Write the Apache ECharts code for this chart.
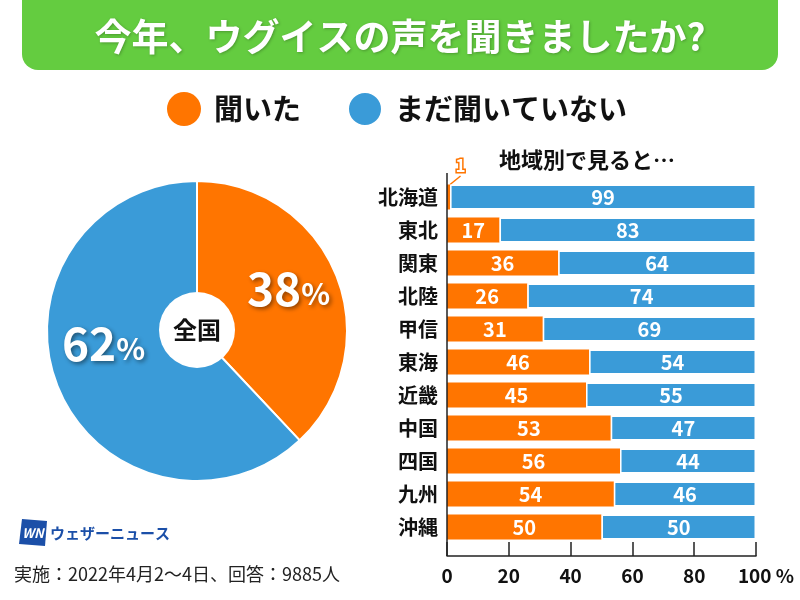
<!DOCTYPE html>
<html><head><meta charset="utf-8">
<script src="https://cdn.jsdelivr.net/npm/echarts@6/dist/echarts.min.js"></script>
<style>html,body{margin:0;padding:0;background:#fff}#c{width:800px;height:600px}</style>
</head><body><div id="c"></div>
<script>
const FONT = '"Noto Sans CJK JP", "Noto Sans", sans-serif';
const ORANGE = '#ff7500';
const BLUE = '#3a9bd8';
const GREEN = '#64cc40';

const seriesNames = ['聞いた', 'まだ聞いていない'];
const nationalValues = [38, 62];
const regions = ['北海道','東北','関東','北陸','甲信','東海','近畿','中国','四国','九州','沖縄'];
const heard = [1, 17, 36, 26, 31, 46, 45, 53, 56, 54, 50];
const notHeard = [99, 83, 64, 74, 69, 54, 55, 47, 44, 46, 50];
const xTicks = [0, 20, 40, 60, 80, 100];

const chart = echarts.init(document.getElementById('c'), null, {renderer: 'canvas'});

const shadow = {textShadowColor: 'rgba(0,0,0,0.45)', textShadowBlur: 4, textShadowOffsetX: 2, textShadowOffsetY: 2};

const option = {
  backgroundColor: '#fff',
  animation: false,
  textStyle: {fontFamily: FONT},
  legend: {
    left: 162, top: 86,
    itemWidth: 34, itemHeight: 34, itemGap: 46,
    icon: 'circle',
    data: seriesNames,
    textStyle: {fontSize: 29, fontWeight: 'bold', color: '#111', fontFamily: FONT, padding: [0, 0, 0, 8]}
  },
  grid: {left: 447, right: 44, top: 180.5, bottom: 56.5, containLabel: false},
  xAxis: {
    type: 'value', min: 0, max: 100, interval: 20, offset: 12.5,
    axisLine: {show: true, lineStyle: {color: '#222', width: 1.5}},
    axisTick: {show: true, inside: true, length: 14, lineStyle: {color: '#222', width: 1.5}},
    splitLine: {show: false},
    axisLabel: {
      margin: 10, color: '#111', fontSize: 19, fontWeight: 'bold', fontFamily: FONT,
      formatter: v => v === 100 ? '{s|}' + xTicks[5] + '{p| %}' : String(v),
      rich: {s: {width: 20}, p: {fontSize: 19, fontWeight: 'bold', color: '#111'}}
    }
  },
  yAxis: {
    type: 'category', inverse: true, data: regions,
    axisLine: {show: false}, axisTick: {show: false},
    axisLabel: {margin: 9, color: '#111', fontSize: 20, fontWeight: 'bold', fontFamily: FONT}
  },
  series: [
    {
      name: seriesNames[0], type: 'bar', stack: 'r', barWidth: 25,
      itemStyle: {color: ORANGE},
      label: {show: true, position: 'inside', color: '#fff', fontSize: 20, fontWeight: 'bold', fontFamily: FONT},
      labelLayout: p => p.dataIndex === 0 ? {dx: 12, dy: -6} : {},
      data: heard.map((v, i) => i === 0 ? {
        value: v,
        label: {position: 'top', distance: 4, color: '#fff', textBorderColor: ORANGE, textBorderWidth: 3, fontSize: 17},
        labelLine: {show: true, lineStyle: {color: ORANGE, width: 1.5}}
      } : v)
    },
    {
      name: seriesNames[1], type: 'bar', stack: 'r', barWidth: 25,
      itemStyle: {color: BLUE, borderColor: '#fff', borderWidth: 1.5},
      label: {show: true, position: 'inside', color: '#fff', fontSize: 20, fontWeight: 'bold', fontFamily: FONT},
      data: notHeard
    },
    {
      name: '全国', type: 'pie', center: [197, 331], radius: 150,
      startAngle: 90, clockwise: true, silent: true,
      itemStyle: {borderColor: '#fff', borderWidth: 2},
      label: {
        show: true, position: 'inside', formatter: '{n|{c}}{p|%}',
        rich: {
          n: Object.assign({fontSize: 46, fontWeight: 'bold', color: '#fff', fontFamily: FONT}, shadow),
          p: Object.assign({fontSize: 30, fontWeight: 'bold', color: '#fff', fontFamily: FONT, padding: [10, 0, 0, 0]}, shadow)
        }
      },
      labelLine: {show: false},
      data: [
        {name: seriesNames[0], value: nationalValues[0], itemStyle: {color: ORANGE}, label: {offset: [19, -14]}},
        {name: seriesNames[1], value: nationalValues[1], itemStyle: {color: BLUE}, label: {offset: [-21, -16]}}
      ]
    },
    {
      type: 'pie', center: [197, 330], radius: 38, silent: true,
      itemStyle: {color: '#fff'},
      label: {show: true, position: 'center', formatter: '全国', fontSize: 24, fontWeight: 'bold', color: '#111', fontFamily: FONT},
      labelLine: {show: false},
      data: [{name: '全国', value: 1}],
      z: 5
    }
  ],
  graphic: [
    {type: 'rect', shape: {x: 22, y: -30, width: 756, height: 100, r: 16}, style: {fill: GREEN}, z: 0},
    {type: 'text', x: 400, y: 37, style: {text: '今年、ウグイスの声を聞きましたか?', fill: '#fff', font: 'bold 37px ' + FONT, textAlign: 'center', textVerticalAlign: 'middle', textShadowColor: 'rgba(0,0,0,0.25)', textShadowBlur: 3, textShadowOffsetX: 1, textShadowOffsetY: 1}, z: 1},
    {type: 'text', x: 587, y: 160, style: {text: '地域別で見ると…', fill: '#111', font: 'bold 22px ' + FONT, textAlign: 'center', textVerticalAlign: 'middle'}},
    {type: 'group', x: 19, y: 519, rotation: 0, children: [
      {type: 'polygon', shape: {points: [[3, 0], [28, 2], [26, 27], [0, 25]]}, style: {fill: '#1b4fa8'}},
      {type: 'text', x: 14, y: 14, style: {text: 'WN', fill: '#fff', font: 'italic bold 13px ' + FONT, textAlign: 'center', textVerticalAlign: 'middle'}}
    ]},
    {type: 'text', x: 50, y: 533, style: {text: 'ウェザーニュース', fill: '#1b4fa8', font: 'bold 15px ' + FONT, textVerticalAlign: 'middle'}},
    {type: 'text', x: 14, y: 574, style: {text: '実施：2022年4月2～4日、回答：9885人', fill: '#222', font: '18px ' + FONT, textVerticalAlign: 'middle'}}
  ]
};
chart.setOption(option);

const x0 = chart.convertToPixel({xAxisIndex: 0}, 0);
const yTop = chart.convertToPixel({yAxisIndex: 0}, regions[0]) - 24;
chart.setOption({graphic: option.graphic.concat([
  {type: 'line', shape: {x1: x0, y1: yTop, x2: x0, y2: 556}, style: {stroke: '#222', lineWidth: 1.5}, z: 10}
])});
</script></body></html>
